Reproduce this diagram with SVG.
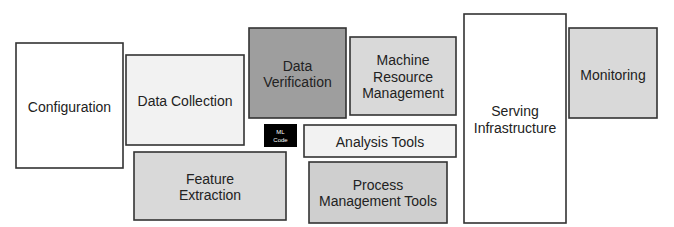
<svg xmlns="http://www.w3.org/2000/svg" width="674" height="227" viewBox="0 0 674 227">
<style>
rect.box{stroke:#333;stroke-width:1.6}
text{font-family:"Liberation Sans",Arial,sans-serif;font-size:14px;fill:#222;text-anchor:middle}
text.ml{font-size:6px;fill:#fff}
</style>
<rect width="674" height="227" fill="#fff"/>
<g id="configuration"><rect class="box" x="16" y="43" width="107" height="125" fill="#fff"/><text x="69.5" y="112">Configuration</text></g>
<g id="data-collection"><rect class="box" x="126" y="55" width="118" height="90" fill="#f2f2f2"/><text x="185" y="105.5">Data Collection</text></g>
<g id="feature-extraction"><rect class="box" x="134" y="152" width="152" height="68" fill="#d9d9d9"/><text x="210" y="184">Feature</text><text x="210" y="199.5">Extraction</text></g>
<g id="data-verification"><rect class="box" x="249" y="28" width="97" height="90" fill="#9e9e9e"/><text x="297.5" y="71">Data</text><text x="297.5" y="87">Verification</text></g>
<g id="machine-resource-management"><rect class="box" x="350" y="37" width="106" height="78" fill="#d9d9d9"/><text x="403" y="65">Machine</text><text x="403" y="82">Resource</text><text x="403" y="98">Management</text></g>
<g id="ml-code"><rect x="264" y="124" width="33" height="23" fill="#000"/><text class="ml" x="280.5" y="134">ML</text><text class="ml" x="280.5" y="142">Code</text></g>
<g id="analysis-tools"><rect class="box" x="304" y="125" width="152" height="32" fill="#f2f2f2"/><text x="380" y="147">Analysis Tools</text></g>
<g id="process-management-tools"><rect class="box" x="309" y="162" width="138" height="61" fill="#cfcfcf"/><text x="378" y="190">Process</text><text x="378" y="206">Management Tools</text></g>
<g id="serving-infrastructure"><rect class="box" x="464" y="14" width="102" height="209" fill="#fff"/><text x="515" y="116">Serving</text><text x="515" y="133">Infrastructure</text></g>
<g id="monitoring"><rect class="box" x="569" y="28" width="88" height="90" fill="#d9d9d9"/><text x="613" y="80">Monitoring</text></g>
<g id="connectors"></g>
</svg>
